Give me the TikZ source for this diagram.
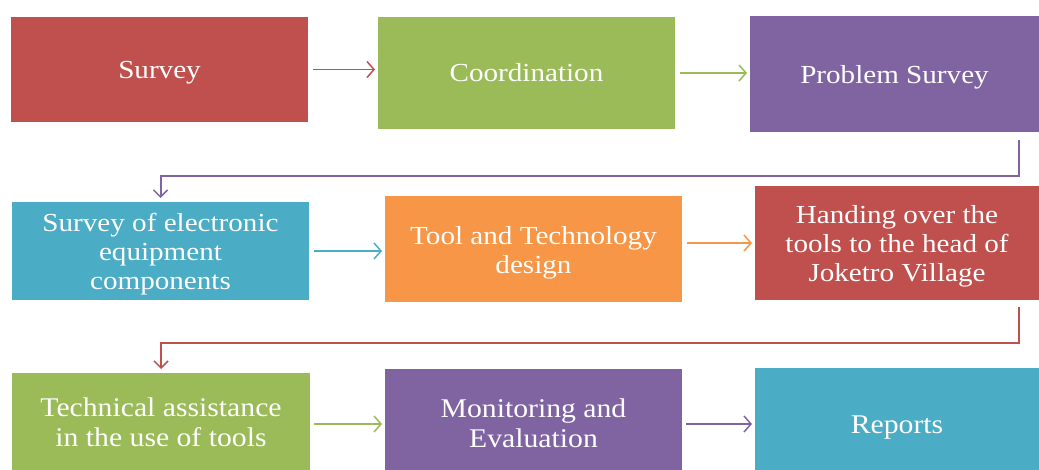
\documentclass[tikz,border=0pt]{standalone}
\usepackage{fontspec}
\setmainfont[FakeStretch=1.12]{Liberation Serif}
\newfontfamily\rowthree[FakeStretch=1.10]{Liberation Serif}
\usetikzlibrary{arrows.meta}
\definecolor{cred}{HTML}{C0504D}
\definecolor{cgreen}{HTML}{9BBB59}
\definecolor{cpurple}{HTML}{8064A2}
\definecolor{cblue}{HTML}{4BACC6}
\definecolor{corange}{HTML}{F79646}
\newcommand\sdown[1]{\rule{0pt}{#1pt}}
\tikzset{
  box/.style={anchor=north west, inner sep=0pt, outer sep=0pt, text=white,
    align=center, font=\fontsize{26}{29}\selectfont},
  nbox/.style={anchor=north west, inner sep=0pt, outer sep=0pt, text=white,
    align=center, font=\rowthree\fontsize{27}{30}\selectfont},
  arr/.style={line width=1.5pt, -{Straight Barb[length=7pt,width=16pt,line width=1.5pt]}},
  conn/.style={line width=2pt, -{Straight Barb[length=7pt,width=14pt,line width=1.5pt]}}
}
\begin{document}
\begin{tikzpicture}[x=1pt,y=-1pt]
\useasboundingbox (0,0) rectangle (1039,470);
\node[box, fill=cred, minimum width=297pt, minimum height=105pt] (s1) at (11,17) {\sdown{24}Survey};
\node[box, fill=cgreen, minimum width=297pt, minimum height=112pt] (s2) at (378,17) {Coordination};
\node[box, fill=cpurple, minimum width=289pt, minimum height=116pt] (s3) at (750,16) {\sdown{24}Problem Survey};
\node[box, fill=cblue, minimum width=297pt, minimum height=98pt] (s4) at (12,202) {\sdown{24}Survey of electronic\\equipment\\components};
\node[box, fill=corange, minimum width=297pt, minimum height=106pt] (s5) at (385,196) {\sdown{25}Tool and Technology\\design};
\node[box, fill=cred, minimum width=284pt, minimum height=114pt] (s6) at (755,186) {\sdown{24}Handing over the\\tools to the head of\\Joketro Village};
\node[nbox, fill=cgreen, minimum width=298pt, minimum height=97pt] (s7) at (12,373) {\sdown{21}Technical assistance\\in the use of tools};
\node[nbox, fill=cpurple, minimum width=297pt, minimum height=101pt] (s8) at (385,369) {\sdown{27}Monitoring and\\Evaluation};
\node[nbox, fill=cblue, minimum width=284pt, minimum height=102pt] (s9) at (755,368) {\sdown{34}Reports};

\draw[arr, cred] ([xshift=5pt]s1.east) -- ([xshift=-3pt]s1.east -| s2.west);
\draw[arr, cgreen] ([xshift=5pt]s2.east) -- ([xshift=-3pt]s2.east -| s3.west);
\draw[arr, cblue] ([xshift=5pt]s4.east) -- ([xshift=-3pt]s4.east -| s5.west);
\draw[arr, corange] ([xshift=5pt]s5.east |- s6.west) -- ([xshift=-3pt]s6.west);
\draw[arr, cgreen] ([xshift=4pt]s7.east |- 0,424) coordinate (a7) -- ([xshift=-3pt]a7 -| s8.west);
\draw[arr, cpurple] ([xshift=4pt]s8.east |- 0,424) coordinate (a8) -- ([xshift=-3pt]a8 -| s9.west);

\draw[conn, cpurple] ([shift={(-20pt,-8pt)}]s3.south east) |- ([yshift=26pt]s4.north) -- ([yshift=4pt]s4.north);
\draw[conn, cred] ([shift={(-20pt,-7pt)}]s6.south east) |- ([yshift=30pt]s7.north) -- ([yshift=4pt]s7.north);
\end{tikzpicture}
\end{document}
